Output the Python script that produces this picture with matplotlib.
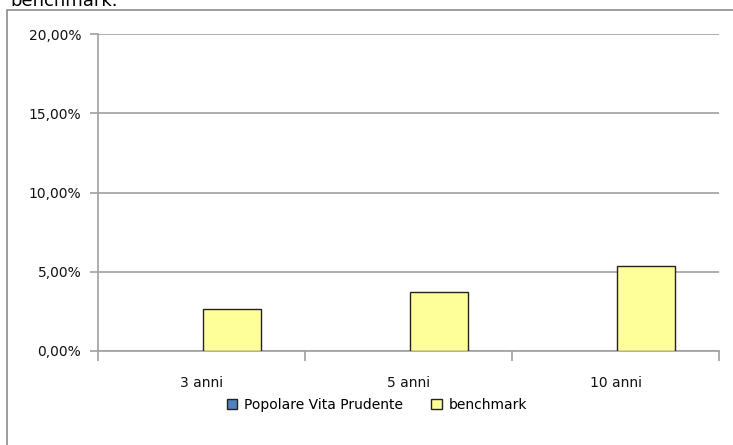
import numpy as np
import matplotlib.pyplot as plt
from matplotlib.patches import Rectangle
from matplotlib.ticker import FuncFormatter

# data
categories = ['3 anni', '5 anni', '10 anni']
fondo = [0.0, 0.0, 0.0]          # Popolare Vita Prudente (no visible bars)
benchmark = [2.65, 3.72, 5.38]
y_ticks = [0, 5, 10, 15, 20]

W, H = 733, 445
plt.rcParams['font.family'] = 'DejaVu Sans'
fig = plt.figure(figsize=(W / 100, H / 100), dpi=100)
fig.patch.set_facecolor('white')

# outer chart frame (only left and top visible)
fig.patches.append(Rectangle((7 / W, -0.1), 1.2, (H - 10) / H + 0.1,
                             transform=fig.transFigure, fill=False,
                             edgecolor='#8c8c8c', linewidth=1.2))
# text of the page above the chart, cut by the crop
fig.text(10 / W, 1 - 6 / H, 'benchmark.', fontsize=13, va='baseline', ha='left')

ax = fig.add_axes([98 / W, (H - 351) / H, (719 - 98) / W, (351 - 34) / H])
x = np.arange(len(categories))
bw = 0.28
ax.bar(x - bw / 2 + 0.007, fondo, bw, color='#4F81BD', edgecolor='#222222',
       linewidth=0, label='Popolare Vita Prudente', zorder=3)
ax.bar(x + bw / 2 + 0.007, benchmark, bw, color='#FFFF99', edgecolor='#222222',
       linewidth=1, label='benchmark', zorder=3)

ax.set_xlim(-0.5, len(categories) - 0.5)
ax.set_ylim(0, 20)
ax.set_yticks(y_ticks)
ax.yaxis.set_major_formatter(FuncFormatter(lambda v, p: ('%.2f%%' % v).replace('.', ',')))
ax.set_xticks(x)
ax.set_xticklabels(categories)
ax.set_xticks(np.arange(len(categories) + 1) - 0.5, minor=True)
ax.tick_params(axis='x', which='major', length=0, pad=18, labelsize=10, labelcolor='#111111')
ax.tick_params(axis='x', which='minor', length=7, direction='out', color='#a0a0a0', width=1.2)
ax.tick_params(axis='y', length=6, direction='out', color='#a0a0a0', width=1.2, pad=6,
               labelsize=10, labelcolor='#111111')
ax.grid(axis='y', color='#a0a0a0', linewidth=1.2, zorder=0)

for s in ['top', 'right']:
    ax.spines[s].set_visible(False)
for s in ['left', 'bottom']:
    ax.spines[s].set_color('#a0a0a0')
    ax.spines[s].set_linewidth(1.2)

leg = fig.legend(loc='center', bbox_to_anchor=(377 / W, 1 - 405 / H), ncol=2,
                 frameon=False, fontsize=10, handlelength=0.75, handleheight=0.75,
                 handletextpad=0.5, columnspacing=2.0)
for h in leg.legend_handles:
    h.set_edgecolor('#222222')
    h.set_linewidth(1)

fig.savefig('out.png', dpi=100)
